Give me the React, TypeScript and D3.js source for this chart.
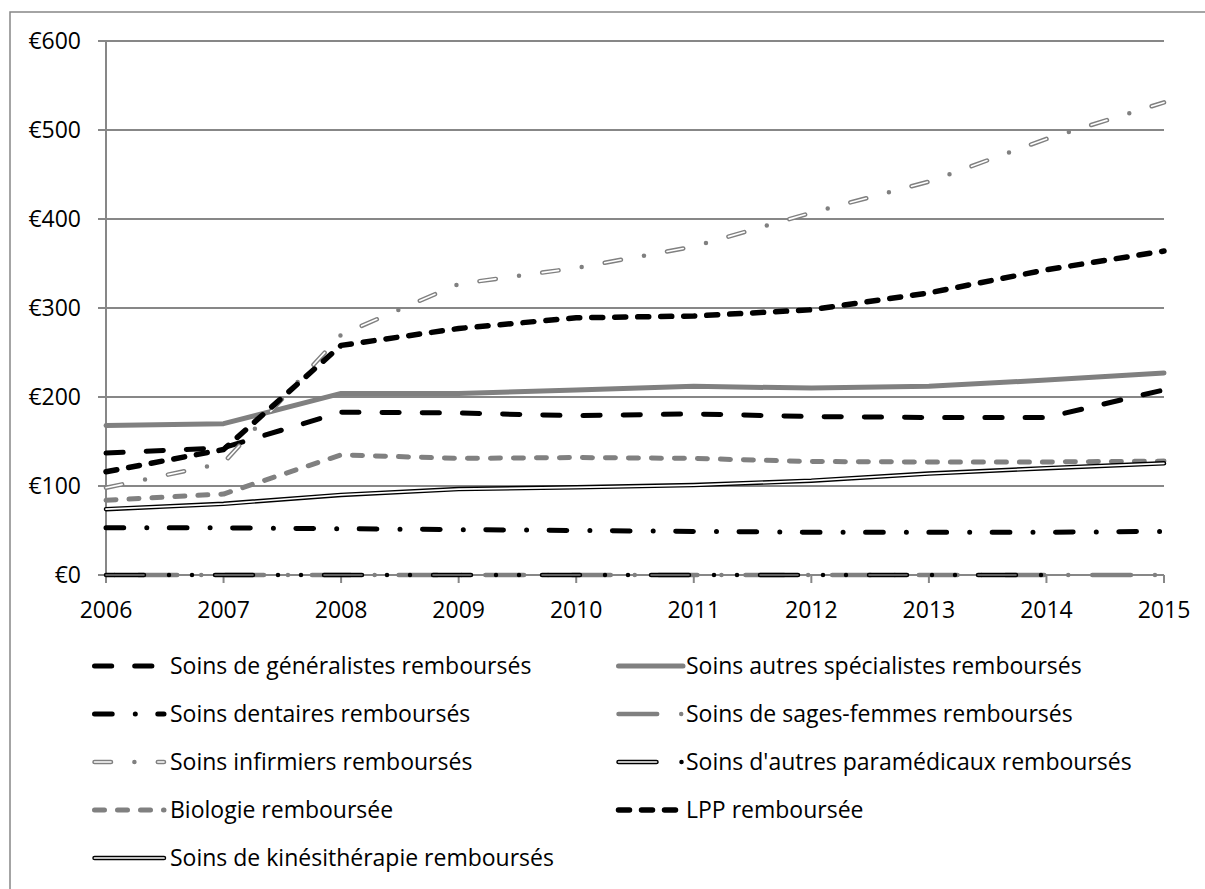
import React from "react";
import * as d3 from "d3";

const years = [2006, 2007, 2008, 2009, 2010, 2011, 2012, 2013, 2014, 2015];
const yTicks = [0, 100, 200, 300, 400, 500, 600];

const generalistes = [137, 143, 183, 182, 179, 181, 178, 177, 177, 208];
const specialistes = [168, 170, 204, 204, 208, 212, 210, 212, 219, 227];
const dentaires = [53, 53, 52, 51, 50, 49, 48, 48, 48, 49];
const sagesFemmes = [0, 0, 0, 0, 0, 0, 0, 0, 0, 0];
const infirmiers = [98, 126, 270, 327, 345, 369, 407, 442, 490, 531];
const paramedicaux: (number | null)[] = [0, 0, 0, 0, 0, 0, 0, 0, 0, null];
const biologie = [84, 91, 135, 131, 132, 131, 127.5, 127, 127, 128];
const lpp = [116, 141, 258, 277, 289, 291, 298, 317, 343, 364];
const kine = [74, 80, 90, 96.5, 98.5, 101, 106, 114, 120, 125.5];

const labels = [
  "Soins de généralistes remboursés",
  "Soins autres spécialistes remboursés",
  "Soins dentaires remboursés",
  "Soins de sages-femmes remboursés",
  "Soins infirmiers remboursés",
  "Soins d'autres paramédicaux remboursés",
  "Biologie remboursée",
  "LPP remboursée",
  "Soins de kinésithérapie remboursés",
];

const GRAY = "#808080";
const GRID = "#878787";
const FONT = "'Open Sans', Lato, sans-serif";
const FS = 23;

type Layer = { stroke: string; width: number; dash?: string; offset?: number; legendStroke?: string };

const styles: Layer[][] = [
  [{ stroke: "#000", width: 5, dash: "17.2 23" }],
  [{ stroke: GRAY, width: 5 }],
  [{ stroke: "#000", width: 5, dash: "17.7 23.1 0 22.5" }],
  [{ stroke: GRAY, width: 4.5, dash: "38.7 24 0 24", offset: 54.15 }],
  [
    { stroke: GRAY, width: 4.5, dash: "16.5 23.4 0 23.4" },
    { stroke: "#fff", width: 1.6, dash: "16.5 46.8" },
  ],
  [
    { stroke: "#000", width: 4.5, dash: "38 25 0 23 0 23" },
    { stroke: GRAY, width: 1.6, dash: "38 71", legendStroke: "#fff" },
  ],
  [{ stroke: GRAY, width: 5, dash: "10 13" }],
  [{ stroke: "#000", width: 5.5, dash: "11 12" }],
  [
    { stroke: "#000", width: 4.5 },
    { stroke: "#fff", width: 1.7 },
  ],
];

const seriesData: (number | null)[][] = [
  generalistes,
  specialistes,
  dentaires,
  sagesFemmes,
  infirmiers,
  paramedicaux,
  biologie,
  lpp,
  kine,
];

export default function App() {
  const W = 1205;
  const H = 889;
  const x = d3.scaleLinear().domain([2006, 2015]).range([106, 1164]);
  const y = d3.scaleLinear().domain([0, 600]).range([575, 41]);

  const line = d3
    .line<[number, number | null]>()
    .defined((d) => d[1] !== null)
    .x((d) => x(d[0]))
    .y((d) => y(d[1] as number));

  const legendRows = [666, 714, 762, 810, 858];
  const legendCols = [
    { x0: 92, x1: 164, tx: 170 },
    { x0: 616, x1: 683, tx: 686 },
  ];

  return (
    <svg
      width={W}
      height={H}
      style={{ position: "absolute", left: 0, top: 0, background: "#fff" }}
      fontFamily={FONT}
    >
      <rect x={0} y={0} width={W} height={H} fill="#fff" />
      <rect x={10} y={12} width={W + 20} height={H + 20} fill="none" stroke={GRID} strokeWidth={1.5} />

      {yTicks.map((t) => (
        <g key={t}>
          <line x1={98} x2={x(2015)} y1={y(t)} y2={y(t)} stroke={GRID} strokeWidth={2} />
          <text x={81} y={y(t) + 8} textAnchor="end" fontSize={FS} fill="#000">
            {"€" + t}
          </text>
        </g>
      ))}
      <line x1={x(2006)} x2={x(2006)} y1={y(600)} y2={y(0) + 8} stroke={GRID} strokeWidth={2} />
      {years.map((yr) => (
        <g key={yr}>
          <line x1={x(yr)} x2={x(yr)} y1={y(0)} y2={y(0) + 8} stroke={GRID} strokeWidth={2} />
          <text x={x(yr)} y={618} textAnchor="middle" fontSize={FS} fill="#000">
            {yr}
          </text>
        </g>
      ))}

      {seriesData.map((vals, i) => {
        const pts = years.map((yr, j) => [yr, vals[j]] as [number, number | null]);
        const d = line(pts) || "";
        return (
          <g key={i}>
            {styles[i].map((ly, k) => (
              <path
                key={k}
                d={d}
                fill="none"
                stroke={ly.stroke}
                strokeWidth={ly.width}
                strokeDasharray={ly.dash}
                strokeDashoffset={ly.offset}
                strokeLinecap="round"
                strokeLinejoin="round"
              />
            ))}
          </g>
        );
      })}

      {labels.map((lab, i) => {
        const row = Math.floor(i / 2);
        const col = legendCols[i % 2];
        const ly = legendRows[row];
        return (
          <g key={lab}>
            {styles[i].map((st, k) => (
              <line
                key={k}
                x1={col.x0 + 2.5}
                x2={col.x1}
                y1={ly}
                y2={ly}
                stroke={st.legendStroke || st.stroke}
                strokeWidth={st.width}
                strokeDasharray={st.dash}
                strokeLinecap="round"
              />
            ))}
            <text x={col.tx} y={ly + 8} fontSize={FS} fill="#000">
              {lab}
            </text>
          </g>
        );
      })}
    </svg>
  );
}
